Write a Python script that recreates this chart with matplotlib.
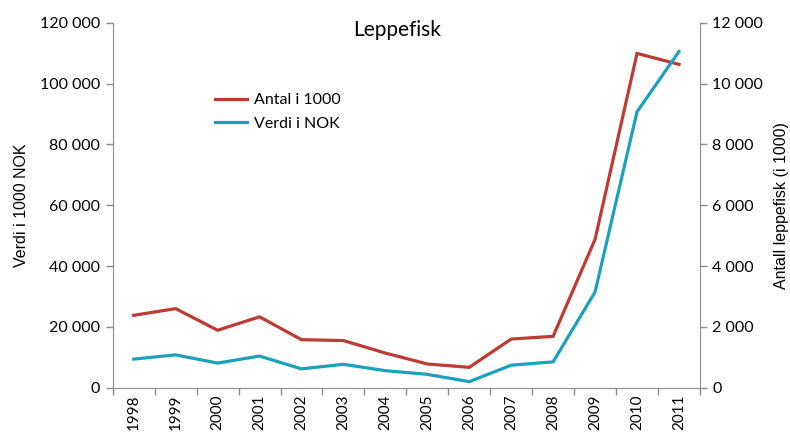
import numpy as np
import matplotlib.pyplot as plt
from matplotlib.ticker import FuncFormatter

years = ['1998', '1999', '2000', '2001', '2002', '2003', '2004',
         '2005', '2006', '2007', '2008', '2009', '2010', '2011']
# Antall leppefisk (i 1000) - right axis
antall = [2380, 2600, 1890, 2330, 1580, 1550, 1140, 780, 670, 1600, 1690, 4880, 10990, 10630]
# Verdi i 1000 NOK - left axis
verdi = [9400, 10800, 8100, 10400, 6200, 7700, 5600, 4400, 2000, 7400, 8500, 31500, 90700, 110500]

red = '#BE3A32'
blue = '#1BA1C0'
grey = '#8C8C8C'
tickfont = 'Lato'

fig = plt.figure(figsize=(7.9, 4.32), dpi=100)
ax = fig.add_axes([0.1427, 0.1025, 0.886 - 0.1427, 0.9475 - 0.1025])
ax2 = ax.twinx()
# blue line drawn above the red one
ax.set_zorder(ax2.get_zorder() + 1)
ax.patch.set_visible(False)

x = np.arange(len(years))
l2, = ax2.plot(x, antall, color=red, lw=2.3, label='Antal i 1000', solid_joinstyle='miter')
l1, = ax.plot(x, verdi, color=blue, lw=2.3, label='Verdi i NOK', solid_joinstyle='miter')

ax.set_xlim(-0.5, len(years) - 0.5)
ax.set_ylim(0, 120000)
ax2.set_ylim(0, 12000)
ax.set_yticks(np.arange(0, 120001, 20000))
ax2.set_yticks(np.arange(0, 12001, 2000))

fmt = FuncFormatter(lambda v, p: f'{v:,.0f}'.replace(',', ' '))
ax.yaxis.set_major_formatter(fmt)
ax2.yaxis.set_major_formatter(fmt)

ax.set_xticks(x)
ax.set_xticklabels(years, rotation=90, fontfamily=tickfont, fontsize=11)
ax.set_xticks(np.arange(-0.5, len(years)), minor=True)
ax.tick_params(axis='x', which='major', length=0, pad=5)
ax.tick_params(axis='x', which='minor', length=5, color=grey, width=1)

for a in (ax, ax2):
    a.spines['top'].set_visible(False)
    a.tick_params(axis='y', length=5, color=grey, width=1, labelsize=11.5, pad=4)
    for lab in a.get_yticklabels():
        lab.set_fontfamily(tickfont)
ax.spines['right'].set_visible(False)
ax2.spines['left'].set_visible(False)
ax.spines['left'].set_color(grey)
ax.spines['bottom'].set_color(grey)
ax2.spines['right'].set_color(grey)
ax2.spines['bottom'].set_visible(False)

ax.set_ylabel('Verdi i 1000 NOK', fontfamily='Liberation Sans', fontsize=11.5, labelpad=8)
ax2.set_ylabel('Antall leppefisk (i 1000)', fontfamily='Liberation Sans', fontsize=11.5, labelpad=8)

fig.text(0.503, 0.93, 'Leppefisk', ha='center', va='center', fontfamily=tickfont, fontsize=15)

fig.legend([l2, l1], ['Antal i 1000', 'Verdi i NOK'], loc='upper left',
           bbox_to_anchor=(0.254, 0.818), frameon=False,
           prop={'family': tickfont, 'size': 11.5}, handlelength=2.0,
           handletextpad=0.45, labelspacing=0.6)

fig.savefig('out.png', dpi=100)
